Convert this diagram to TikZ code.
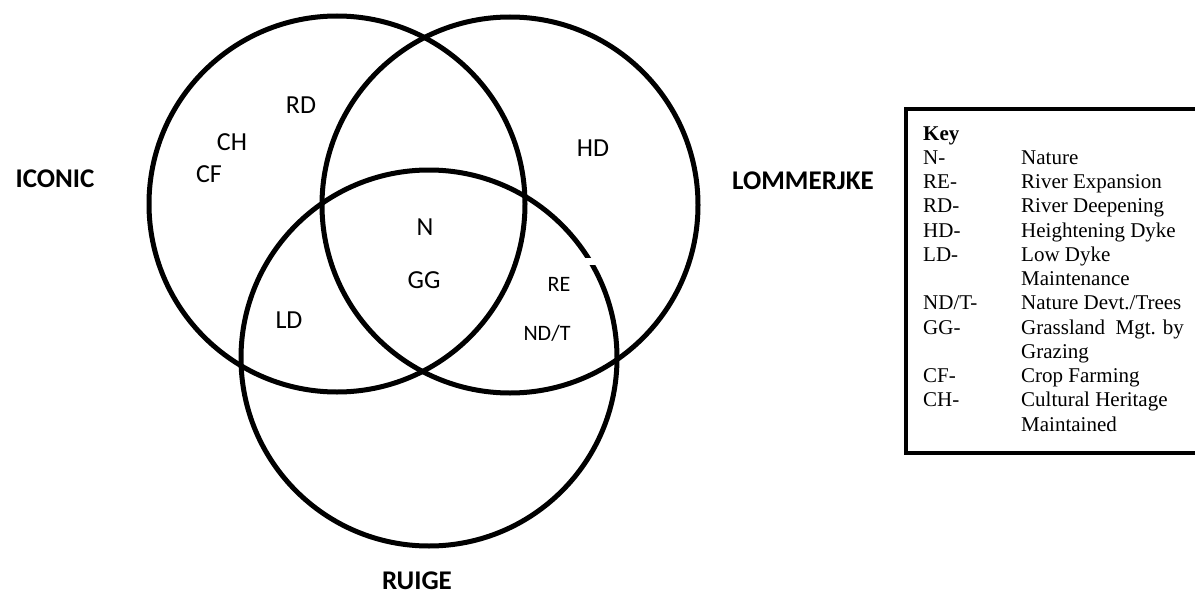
\documentclass[tikz,border=0pt]{standalone}
\usepackage{fontspec}
\setmainfont{Liberation Serif}
\newfontfamily\labfont{Carlito}
\begin{document}
\begin{tikzpicture}[x=1pt,y=-1pt,
  venn/.style={circle,draw,line width=5pt,minimum size=376pt,inner sep=0pt},
  lbl/.style={font=\labfont\fontsize{26}{30}\selectfont,inner sep=0pt,anchor=base},
  slbl/.style={font=\labfont\fontsize{22}{26}\selectfont,inner sep=0pt,anchor=base},
  setlbl/.style={font=\labfont\bfseries\fontsize{27}{32}\selectfont,inner sep=0pt,anchor=base},
  keyt/.style={font=\fontsize{21}{24}\selectfont,anchor=base west,inner sep=0pt},
  keybox/.style={draw,line width=4pt}]
\useasboundingbox (0,0) rectangle (1195,597);
\clip (0,0) rectangle (1195,597);
% circles
\node[venn] (iconic) at (337,204) {};
\node[venn] (lommer) at (510,205) {};
\node[venn] (ruige) at (429,358) {};
% small gap in the Ruige circle
\fill[white] (585,257.5) rectangle (605,265);
% set names
\node[setlbl] (ticonic) at (55,187.7) {ICONIC};
\node[setlbl] (tlommer) at (803,189.7) {LOMMERJKE};
\node[setlbl] (truige) at (417,589) {RUIGE};
% region labels
\node[lbl] (rd) at (301,113.4) {RD};
\node[lbl] (ch) at (232,150.4) {CH};
\node[lbl] (cf) at (209,182.4) {CF};
\node[lbl] (hd) at (593,156.4) {HD};
\node[lbl] (n) at (425,235.4) {N};
\node[lbl] (gg) at (424,288.4) {GG};
\node[lbl] (ld) at (289,328.4) {LD};
\node[slbl] (re) at (559,291) {RE};
\node[slbl] (ndt) at (547,340) {ND/T};
% key
\node[keybox,minimum width=301pt,minimum height=344pt,anchor=north west,inner sep=0pt] (key) at (904,107) {};
\node[keyt,font=\fontsize{21}{24}\selectfont\bfseries] (k0) at (923,140) {Key};
\foreach \i/\a/\b in {1/{N-}/{Nature},2/{RE-}/{River Expansion},3/{RD-}/{River Deepening},4/{HD-}/{Heightening Dyke},5/{LD-}/{Low Dyke},6/{}/{Maintenance},7/{ND/T-}/{Nature Devt./Trees},8/{GG-}/{Grassland\ \ Mgt. by},9/{}/{Grazing},10/{CF-}/{Crop Farming},11/{CH-}/{Cultural Heritage},12/{}/{Maintained}}{
  \node[keyt] (ka\i) at (923,140+24.25*\i) {\a};
  \node[keyt] (kb\i) at (1021,140+24.25*\i) {\b};
}
\end{tikzpicture}
\end{document}
